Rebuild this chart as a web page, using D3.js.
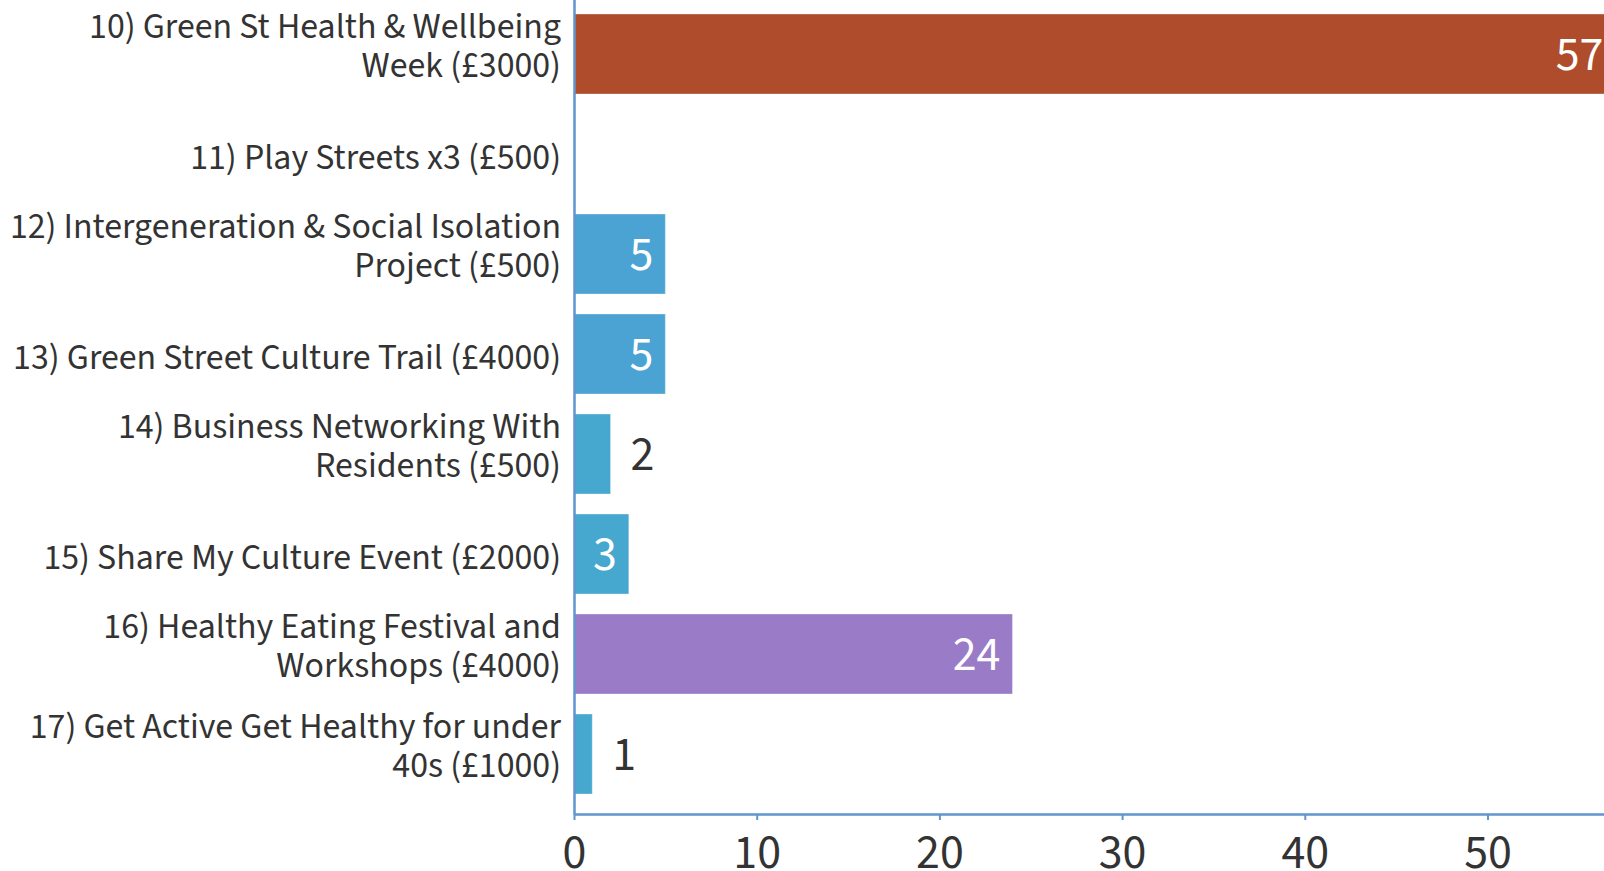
<!DOCTYPE html>
<html><head><meta charset="utf-8">
<script src="https://cdn.jsdelivr.net/npm/d3@7"></script>
<style>html,body{margin:0;padding:0;background:#fff;overflow:hidden}</style>
</head><body><svg id="c" width="1604" height="871"></svg>
<script>
// ---- data ----
const categories = [
  "10) Green St Health & Wellbeing Week (£3000)",
  "11) Play Streets x3 (£500)",
  "12) Intergeneration & Social Isolation Project (£500)",
  "13) Green Street Culture Trail (£4000)",
  "14) Business Networking With Residents (£500)",
  "15) Share My Culture Event (£2000)",
  "16) Healthy Eating Festival and Workshops (£4000)",
  "17) Get Active Get Healthy for under 40s (£1000)"
];
const labelLines = [
  ["10) Green St Health & Wellbeing", "Week (£3000)"],
  ["11) Play Streets x3 (£500)"],
  ["12) Intergeneration & Social Isolation", "Project (£500)"],
  ["13) Green Street Culture Trail (£4000)"],
  ["14) Business Networking With", "Residents (£500)"],
  ["15) Share My Culture Event (£2000)"],
  ["16) Healthy Eating Festival and", "Workshops (£4000)"],
  ["17) Get Active Get Healthy for under", "40s (£1000)"]
];
const values = [57, null, 5, 5, 2, 3, 24, 1];
const xTicks = [0, 10, 20, 30, 40, 50, 60];

// ---- styles ----
const barColors = ["#af4c2b", "#4ba3d4", "#4ba3d4", "#4ba3d4", "#46a7cf", "#46a7cf", "#9a7bc7", "#46a7cf"];
const AXIS = "#6095cd";
const TEXT = "#333333";
const FONT = "'Source Sans Pro','Source Sans 3',Lato,sans-serif";

const svg = d3.select("#c");

function measure(txt, size) {
  const t = svg.append("text").attr("font-family", FONT).attr("font-size", size).text(txt);
  const w = t.node().getComputedTextLength();
  t.remove();
  return w;
}
const catSize = 36 * 371 / measure("11) Play Streets x3 (£500)", 36);
const numSize = 48 * 47.7 / measure("24", 48);

const x = d3.scaleLinear().domain([0, 60]).range([574, 574 + 60 * 18.27]);
const y = d3.scaleBand().domain(categories).range([-6, 814]).paddingInner(0.2).paddingOuter(0.2);

const rows = values.map((v, i) => ({ v, i, cat: categories[i] })).filter(d => d.v != null);

// bars
svg.append("g").selectAll("rect").data(rows).join("rect")
  .attr("x", x(0))
  .attr("y", d => y(d.cat))
  .attr("width", d => x(d.v) - x(0))
  .attr("height", y.bandwidth())
  .attr("fill", d => barColors[d.i])
  .attr("stroke", "#ffffff").attr("stroke-opacity", 0.35).attr("stroke-width", 1);

// value labels
const pad = 12;
svg.append("g").selectAll("text").data(rows).join("text")
  .attr("font-family", FONT).attr("font-size", numSize)
  .each(function (d) {
    const w = measure(String(d.v), numSize);
    const bw = x(d.v) - x(0);
    const inside = bw > w + 2 * pad;
    d3.select(this)
      .attr("x", inside ? x(d.v) - pad : x(d.v) + 20)
      .attr("text-anchor", inside ? "end" : "start")
      .attr("fill", inside ? "#ffffff" : TEXT);
  })
  .attr("y", d => y(d.cat) + y.bandwidth() / 2)
  .attr("dy", "0.34em")
  .text(d => d.v);

// x axis
const gx = svg.append("g").attr("transform", "translate(0,814)")
  .call(d3.axisBottom(x).tickValues(xTicks).tickSize(6).tickSizeOuter(0));
gx.select(".domain").attr("stroke", AXIS).attr("stroke-width", 2.5);
gx.selectAll(".tick line").attr("stroke", AXIS).attr("stroke-width", 2);
gx.selectAll(".tick text").attr("font-family", FONT).attr("font-size", numSize)
  .attr("fill", TEXT).attr("y", 54).attr("dy", 0);

// y axis
const gy = svg.append("g").attr("transform", "translate(574,0)")
  .call(d3.axisLeft(y).tickSize(0).tickPadding(13).tickSizeOuter(0));
gy.select(".domain").attr("stroke", AXIS).attr("stroke-width", 2.5);
const LH = 39.5;
gy.selectAll(".tick text")
  .attr("font-family", FONT).attr("font-size", catSize).attr("fill", TEXT)
  .attr("dy", null)
  .each(function (c) {
    const lines = labelLines[categories.indexOf(c)];
    const t = d3.select(this).text(null);
    const n = lines.length;
    lines.forEach((ln, k) => {
      t.append("tspan").attr("x", -13)
        .attr("y", 15 - (n - 1) * 31.5 + k * LH)
        .text(ln);
    });
  });
</script>
</body></html>
